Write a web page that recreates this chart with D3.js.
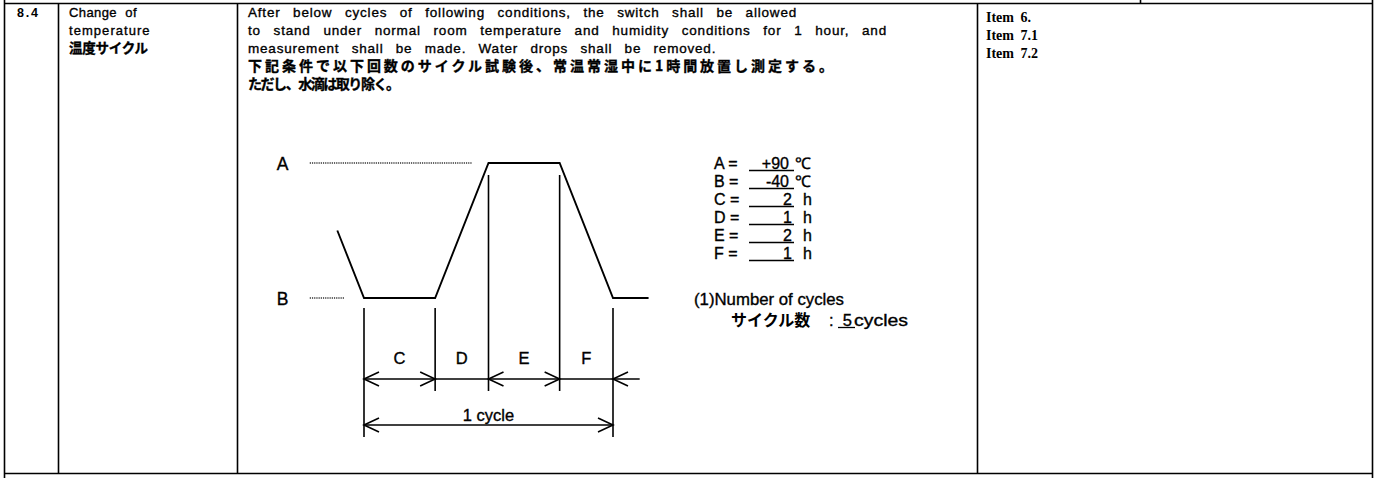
<!DOCTYPE html>
<html><head><meta charset="utf-8">
<script src="https://cdn.jsdelivr.net/npm/d3@7"></script>
<style>
html,body{margin:0;padding:0;background:#fff;}
svg{display:block;}
</style></head>
<body>
<svg id="c" width="1379" height="478"></svg>
<script>
// ---- data ----
const itemNo = "8.4";
const itemTitle = ["Change of", "temperature", "温度サイクル"];
const titleEnds = [137, 150, 148];
const paragraph = [
  "After below cycles of following conditions, the switch shall be allowed",
  "to stand under normal room temperature and humidity conditions for 1 hour, and",
  "measurement shall be made.  Water drops shall be removed.",
  "下記条件で以下回数のサイクル試験後、常温常湿中に1時間放置し測定する。",
  "ただし、水滴は取り除く。"
];
const paragraphEnds = [797, 887, 724, 833, 400];
const itemRefs = ["Item 6.", "Item 7.1", "Item 7.2"];
const profileT = [-1.5, 0, 4, 7, 11, 14, 16];
const profileTemp = [25, -40, -40, 90, 90, -40, -40];
const segBounds = [0, 4, 7, 11, 14];
const segLabels = ["C", "D", "E", "F"];
const levelLabels = ["A", "B"];
const levelTemps = [90, -40];
const legendLabels = ["A", "B", "C", "D", "E", "F"];
const legendValues = ["+90", "-40", "2", "1", "2", "1"];
const legendUnits = ["℃", "℃", "h", "h", "h", "h"];
const cycleCount = "5";

// ---- drawing ----
const svg = d3.select("#c");
const sans = "'Liberation Sans', Arial, sans-serif";
const jp = "'Noto Sans CJK JP', sans-serif";
const ink = sel => sel.attr("fill", "#000").attr("stroke", "#000").attr("stroke-width", 0.35);

// fit a text line to a width using word/letter spacing
function fitLine(sel, target, letter) {
  sel.each(function () {
    const t = d3.select(this);
    t.attr("letter-spacing", letter || 0);
    const nat = this.getComputedTextLength();
    const s = (this.textContent.match(/ /g) || []).length;
    if (s > 0 && nat < target) t.attr("word-spacing", (target - nat) / s);
    else t.attr("textLength", target).attr("lengthAdjust", "spacing");
  });
}

// table frame
const frame = svg.append("g").attr("stroke", "#000").attr("stroke-width", 1.6).attr("fill", "none");
const hline = (x1, x2, y) => frame.append("line").attr("x1", x1).attr("x2", x2).attr("y1", y).attr("y2", y);
const vline = (x, y1, y2) => frame.append("line").attr("x1", x).attr("x2", x).attr("y1", y1).attr("y2", y2);
hline(4, 1373, 3.5);
hline(4, 1373, 473.5);
vline(4.5, 0, 478);
vline(1372.5, 0, 478);
vline(58.5, 3, 473);
vline(237.5, 3, 473);
vline(977.5, 3, 473);
vline(1140.5, 0, 3);

// left columns
svg.append("text").attr("x", 17).attr("y", 17).attr("font-family", sans).attr("font-size", 12.5)
  .attr("font-weight", "bold").attr("textLength", 21).text(itemNo);
svg.selectAll("text.title").data(itemTitle).join("text").attr("class", "title")
  .attr("x", 69).attr("y", (d, i) => 17 + i * 18)
  .attr("font-family", (d, i) => i === 2 ? jp : sans)
  .attr("font-size", (d, i) => i === 2 ? 13.5 : 13)
  .attr("font-weight", (d, i) => i === 2 ? "bold" : "normal")
  .call(ink)
  .text(d => d)
  .each(function (d, i) { fitLine(d3.select(this), titleEnds[i] - 69, i === 2 ? 0 : 0.4); });

// paragraph
svg.selectAll("text.para").data(paragraph).join("text").attr("class", "para")
  .attr("x", 248).attr("y", (d, i) => 17 + i * 18)
  .attr("font-family", (d, i) => i >= 3 ? jp : sans)
  .attr("font-size", (d, i) => i >= 3 ? 14 : 13.5)
  .attr("font-weight", (d, i) => i >= 3 ? "bold" : "normal")
  .call(ink)
  .text(d => d)
  .each(function (d, i) { fitLine(d3.select(this), paragraphEnds[i] - 248, i >= 3 ? 0 : 0.8); });

// item refs
svg.selectAll("text.ref").data(itemRefs).join("text").attr("class", "ref")
  .attr("x", 986).attr("y", (d, i) => 22 + i * 18)
  .attr("font-family", "'Liberation Serif', serif").attr("font-size", 14)
  .attr("font-weight", "bold").attr("word-spacing", 3)
  .text(d => d);

// diagram scales
const x = d3.scaleLinear().domain([0, 14]).range([364, 613]);
const y = d3.scaleLinear().domain([-40, 90]).range([298, 163]);

const g = svg.append("g");
// dotted reference lines + labels
const dotEnds = [6.1, -1.1];
levelTemps.forEach((t, i) => {
  g.append("line").attr("x1", x(-3.05)).attr("x2", x(dotEnds[i]))
    .attr("y1", y(t)).attr("y2", y(t))
    .attr("stroke", "#333").attr("stroke-width", 1.3).attr("stroke-dasharray", "1.2,1");
  g.append("text").attr("x", x(-4.9)).attr("y", y(t) + 7)
    .attr("font-family", sans).attr("font-size", 17.5).call(ink).text(levelLabels[i]);
});

// temperature profile
const line = d3.line().x(d => x(d[0])).y(d => y(d[1]));
g.append("path").datum(profileT.map((t, i) => [t, profileTemp[i]]))
  .attr("d", line).attr("fill", "none").attr("stroke", "#000").attr("stroke-width", 1.9);

// vertical boundary lines
const segY = 379, cycY = 425;
segBounds.forEach((t, i) => {
  const k = profileT.indexOf(t);
  const top = profileTemp[k] === 90 ? y(90) + 12 : y(-40) + 10;
  const outer = (i === 0 || i === segBounds.length - 1);
  const bottom = outer ? cycY + 12 : segY + 12;
  g.append("line").attr("x1", x(t)).attr("x2", x(t)).attr("y1", top).attr("y2", bottom)
    .attr("stroke", "#000").attr("stroke-width", 1.6);
});

// arrows
function head(px, py, dir) {
  g.append("path").attr("d", `M${px + dir * 15},${py - 7}L${px},${py}L${px + dir * 15},${py + 7}`)
    .attr("fill", "none").attr("stroke", "#000").attr("stroke-width", 1.6);
}
g.append("line").attr("x1", x(0)).attr("x2", x(15.5)).attr("y1", segY).attr("y2", segY)
  .attr("stroke", "#000").attr("stroke-width", 1.6);
segBounds.forEach((t, i) => head(x(t), segY, i % 2 === 0 ? 1 : -1));
segLabels.forEach((s, i) => {
  g.append("text").attr("x", x((segBounds[i] + segBounds[i + 1]) / 2)).attr("y", 364)
    .attr("text-anchor", "middle").attr("font-family", sans).attr("font-size", 16.5)
    .call(ink).text(s);
});
g.append("line").attr("x1", x(0)).attr("x2", x(14)).attr("y1", cycY).attr("y2", cycY)
  .attr("stroke", "#000").attr("stroke-width", 1.6);
head(x(0), cycY, 1);
head(x(14), cycY, -1);
g.append("text").attr("x", x(7)).attr("y", 421).attr("text-anchor", "middle")
  .attr("font-family", sans).attr("font-size", 16.5).call(ink).text("1 cycle");

// legend
const lg = svg.append("g").attr("font-family", sans).attr("font-size", 16);
legendLabels.forEach((l, i) => {
  const by = 169 + i * 18;
  lg.append("text").attr("x", 714).attr("y", by).call(ink).text(l + " =");
  lg.append("line").attr("x1", 749).attr("x2", 794).attr("y1", by + 1.5).attr("y2", by + 1.5)
    .attr("stroke", "#000").attr("stroke-width", 1.3);
  lg.append("text").attr("x", legendUnits[i] === "℃" ? 789 : 792).attr("y", by).attr("text-anchor", "end")
    .call(ink).text(legendValues[i]);
  lg.append("text").attr("x", legendUnits[i] === "℃" ? 795 : 803).attr("y", by).call(ink).text(legendUnits[i]);
});
lg.append("text").attr("x", 694).attr("y", 305).attr("font-size", 16.5)
  .attr("textLength", 150).attr("lengthAdjust", "spacingAndGlyphs")
  .call(ink).text("(1)Number of cycles");
lg.append("text").attr("x", 731).attr("y", 326).attr("font-family", jp).attr("font-weight", "bold")
  .attr("font-size", 16).text("サイクル数");
lg.append("text").attr("x", 829).attr("y", 326).attr("font-size", 16.5).call(ink).text(":");
lg.append("line").attr("x1", 838).attr("x2", 855).attr("y1", 327.5).attr("y2", 327.5)
  .attr("stroke", "#000").attr("stroke-width", 1.3);
lg.append("text").attr("x", 852).attr("y", 326).attr("font-size", 16.5).attr("text-anchor", "end").call(ink).text(cycleCount);
lg.append("text").attr("x", 854).attr("y", 326).attr("font-size", 16.5)
  .attr("textLength", 54).attr("lengthAdjust", "spacingAndGlyphs").call(ink).text("cycles");
</script>
</body></html>
